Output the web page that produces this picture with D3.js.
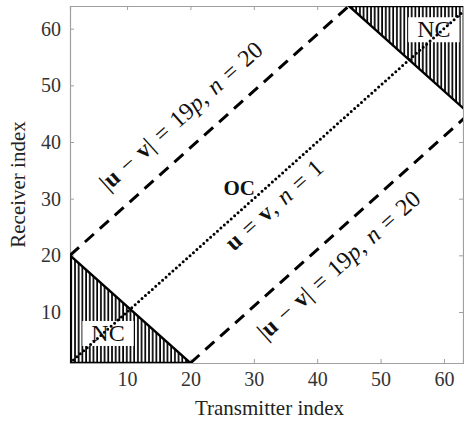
<!DOCTYPE html>
<html>
<head>
<meta charset="utf-8">
<script src="https://cdn.jsdelivr.net/npm/d3@7/dist/d3.min.js"></script>
<style>
  html, body { margin: 0; padding: 0; background: #fff; }
  svg { display: block; font-family: "Liberation Serif", "Times New Roman", serif; }
  svg text { font-family: "Liberation Serif", "Times New Roman", serif; }
</style>
</head>
<body>
<svg id="chart" width="464" height="423"></svg>
<script>
// Index grid (transmitter u, receiver v)
const xDomain = [1, 63];
const yDomain = [1, 64];
const xTicks = [10, 20, 30, 40, 50, 60];
const yTicks = [10, 20, 30, 40, 50, 60];

// Boundary lines |u - v| = 19p and the diagonal u = v
const upperBoundary = [[1, 20], [45, 64]];
const lowerBoundary = [[20, 1], [64, 45]];
const diagonal = [[1, 1], [64, 64]];

// Non-coverage corner regions
const ncLower = [[1, 1], [1, 20], [20, 1]];
const ncUpper = [[45, 64], [64, 64], [64, 45]];

// Label anchors (data units)
const ncLabels = [{ text: "NC", x: 7.0, y: 6.3 }, { text: "NC", x: 58.4, y: 59.9 }];
const ocLabel = { text: "OC", x: 27.7, y: 31.9 };
const upperLabelPos = [18.5, 44.6];
const lowerLabelPos = [43.4, 18.3];
const diagLabelPos = [33.2, 28.9];

const margin = { left: 70, right: 1, top: 6, bottom: 60 };
const W = 464, H = 423;
const svg = d3.select("#chart");
const serif = "'Liberation Serif', 'Times New Roman', serif";

const x = d3.scaleLinear().domain(xDomain).range([margin.left, W - margin.right]);
const y = d3.scaleLinear().domain(yDomain).range([H - margin.bottom, margin.top]);

const defs = svg.append("defs");
defs.append("clipPath").attr("id", "plotClip")
  .append("rect")
  .attr("x", x(xDomain[0])).attr("y", y(yDomain[1]))
  .attr("width", x(xDomain[1]) - x(xDomain[0]))
  .attr("height", y(yDomain[0]) - y(yDomain[1]));

const hatch = defs.append("pattern").attr("id", "vhatch")
  .attr("patternUnits", "userSpaceOnUse")
  .attr("width", 3.7).attr("height", 10);
hatch.append("rect").attr("width", 3.7).attr("height", 10).attr("fill", "#fff");
hatch.append("line").attr("x1", 1).attr("x2", 1).attr("y1", 0).attr("y2", 10)
  .attr("stroke", "#000").attr("stroke-width", 1.7);

// Axes box
const axisColor = "#a0a0a0";
const gx = svg.append("g").attr("transform", `translate(0,${y(yDomain[0])})`)
  .call(d3.axisBottom(x).tickValues(xTicks).tickSize(-4).tickPadding(9));
const gy = svg.append("g").attr("transform", `translate(${x(xDomain[0])},0)`)
  .call(d3.axisLeft(y).tickValues(yTicks).tickSize(-4).tickPadding(9));
const gt = svg.append("g").attr("transform", `translate(0,${y(yDomain[1])})`)
  .call(d3.axisTop(x).tickValues(xTicks).tickSize(-4).tickFormat(""));
const gr = svg.append("g").attr("transform", `translate(${x(xDomain[1])},0)`)
  .call(d3.axisRight(y).tickValues(yTicks).tickSize(-4).tickFormat(""));
[gx, gy, gt, gr].forEach(g => {
  g.attr("font-family", serif).attr("font-size", 20);
  g.selectAll(".domain").attr("stroke", axisColor).attr("stroke-width", 1.2);
  g.selectAll(".tick line").attr("stroke", axisColor);
  g.selectAll(".tick text").attr("fill", "#333");
});

const plot = svg.append("g").attr("clip-path", "url(#plotClip)");
const line = d3.line().x(d => x(d[0])).y(d => y(d[1]));

// Hatched corner triangles
[ncLower, ncUpper].forEach(tri => {
  plot.append("path")
    .attr("d", line(tri) + "Z")
    .attr("fill", "url(#vhatch)")
    .attr("stroke", "#000").attr("stroke-width", 2.4)
    .attr("stroke-linejoin", "miter");
});

// NC labels on white boxes
ncLabels.forEach(l => {
  const g = plot.append("g");
  const r = g.append("rect").attr("fill", "#fff");
  const t = g.append("text")
    .attr("x", x(l.x)).attr("y", y(l.y))
    .attr("text-anchor", "middle").attr("dominant-baseline", "central")
    .style("font-size", "24px").attr("fill", "#111")
    .text(l.text);
  const bb = t.node().getBBox();
  r.attr("x", bb.x - 9).attr("y", bb.y + 1).attr("width", bb.width + 18).attr("height", bb.height - 1);
});

// Boundary and diagonal lines
[upperBoundary, lowerBoundary].forEach(seg => {
  plot.append("path").attr("d", line(seg))
    .attr("fill", "none").attr("stroke", "#000")
    .attr("stroke-width", 3).attr("stroke-dasharray", "12,8");
});
plot.append("path").attr("d", line(diagonal))
  .attr("fill", "none").attr("stroke", "#000")
  .attr("stroke-width", 3).attr("stroke-linecap", "round")
  .attr("stroke-dasharray", "0,4.6");

// Slope of the index lines in screen space
const angle = Math.atan2(y(2) - y(1), x(2) - x(1)) * 180 / Math.PI;

function mathLabel(pos, parts, size) {
  const t = svg.append("text")
    .attr("transform", `translate(${x(pos[0])},${y(pos[1])}) rotate(${angle})`)
    .attr("text-anchor", "middle").attr("dominant-baseline", "central")
    .style("font-size", size + "px").style("word-spacing", "2px").attr("fill", "#111");
  parts.forEach(p => {
    const s = t.append("tspan").text(p.t);
    if (p.b) s.style("font-weight", "bold");
    if (p.i) s.style("font-style", "italic");
  });
  return t;
}

const boundaryParts = [
  { t: "|" }, { t: "u", b: true }, { t: " \u2212 " }, { t: "v", b: true },
  { t: "| = 19" }, { t: "p", i: true }, { t: ", " }, { t: "n", i: true }, { t: " = 20" }
];
mathLabel(upperLabelPos, boundaryParts, 24);
mathLabel(lowerLabelPos, boundaryParts, 24);
mathLabel(diagLabelPos, [
  { t: "u", b: true }, { t: " = " }, { t: "v", b: true }, { t: ", " },
  { t: "n", i: true }, { t: " = 1" }
], 24);

svg.append("text")
  .attr("x", x(ocLabel.x)).attr("y", y(ocLabel.y))
  .attr("text-anchor", "middle").attr("dominant-baseline", "central")
  .style("font-size", "21px").style("font-weight", "bold").attr("fill", "#111")
  .text(ocLabel.text);

// Axis titles
svg.append("text")
  .attr("x", (x(xDomain[0]) + x(xDomain[1])) / 2 + 3).attr("y", 415)
  .attr("text-anchor", "middle").style("font-size", "21px").attr("fill", "#222")
  .text("Transmitter index");
svg.append("text")
  .attr("transform", `translate(25,${(y(yDomain[0]) + y(yDomain[1])) / 2}) rotate(-90)`)
  .attr("text-anchor", "middle").style("font-size", "21px").attr("fill", "#222")
  .text("Receiver index");
</script>
</body>
</html>
